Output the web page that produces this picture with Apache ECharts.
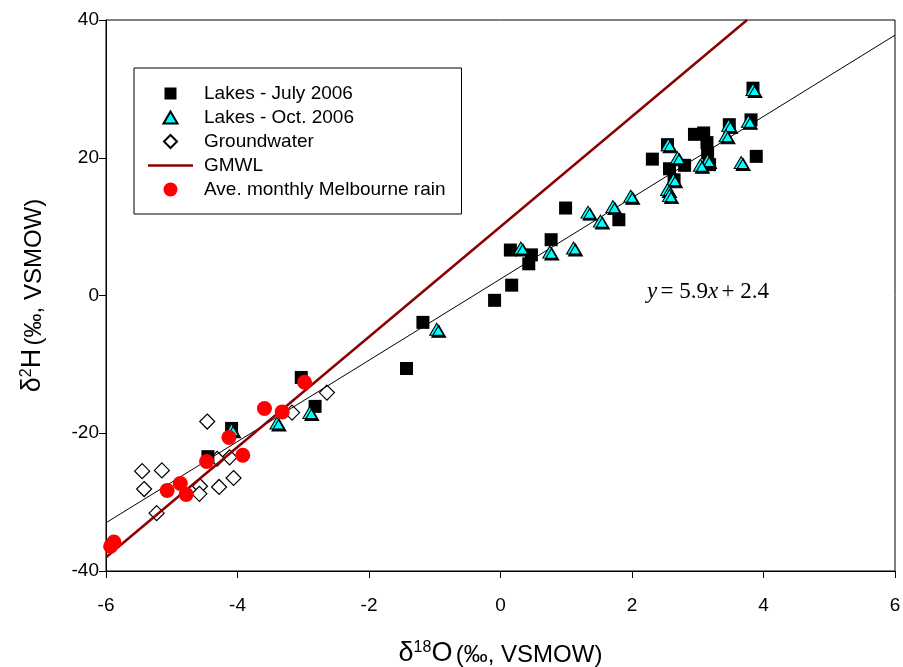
<!DOCTYPE html>
<html style="height: 100%">

<head>
  <meta charset="utf-8">
  <script src="https://cdn.jsdelivr.net/npm/echarts@6/dist/echarts.min.js"></script>
</head>

<body style="height: 100%; margin: 0">
  <div id="main" style="width: 903px; height: 667px"></div>

  <script type="text/javascript">
    // values: [d18O, d2H]
    var lakesJuly = [
      [-4.09, -19.3], [-4.45, -23.4], [-3.03, -11.9], [-2.82, -16.1],
      [-1.43, -10.6], [-1.18, -3.9], [-0.09, -0.7], [0.17, 1.5],
      [0.15, 6.6], [0.43, 4.6], [0.47, 5.9], [0.77, 8.1],
      [0.99, 12.7], [1.8, 11.0], [2.31, 19.8], [2.95, 23.4],
      [3.09, 23.6], [3.14, 22.2], [3.15, 20.7], [2.57, 18.4],
      [2.8, 18.9], [3.18, 19.0], [3.89, 20.2], [2.64, 16.8],
      [3.48, 24.8], [3.81, 25.5], [3.84, 30.1], [2.54, 21.9]
    ];
    var lakesOct = [
      [-4.09, -19.5], [-3.4, -18.5], [-2.9, -17.0], [-0.97, -4.9],
      [0.31, 6.9], [0.75, 6.3], [1.11, 6.9], [1.33, 12.1],
      [1.52, 10.8], [1.71, 12.9], [1.98, 14.4], [2.55, 21.9],
      [2.69, 20.0], [3.15, 19.6], [3.04, 18.9], [3.66, 19.3],
      [2.63, 16.8], [2.54, 15.4], [2.57, 14.5], [3.47, 24.7],
      [3.43, 23.2], [3.77, 25.3], [3.84, 29.9]
    ];
    var groundwater = [
      [-4.46, -18.3], [-5.45, -25.5], [-5.15, -25.4], [-5.42, -28.1],
      [-5.23, -31.6], [-4.57, -27.7], [-4.58, -28.8], [-4.28, -27.8],
      [-4.06, -26.5], [-4.12, -23.5], [-4.31, -23.7], [-3.17, -17.0],
      [-2.64, -14.1]
    ];
    var melbourneRain = [
      [-5.93, -36.4], [-5.88, -35.8], [-5.07, -28.3], [-4.87, -27.3],
      [-4.78, -28.9], [-4.47, -24.1], [-4.13, -20.6], [-3.92, -23.2],
      [-3.59, -16.4], [-3.32, -16.9], [-2.98, -12.6]
    ];
    var gmwl = [[-6, -38], [3.75, 40]];
    var fitLine = [[-6, -33], [6, 37.8]];
    var xTicks = { min: -6, max: 6, interval: 2 };
    var yTicks = { min: -40, max: 40, interval: 20 };

    var font = 'Liberation Sans, Arial, sans-serif';
    var serif = 'Liberation Serif, Times New Roman, serif';

    var titleRich = {
      d: { fontSize: 27, fontFamily: font, color: '#000' },
      s: { fontSize: 16, fontFamily: font, color: '#000', verticalAlign: 'top' },
      p: { fontSize: 24, fontFamily: font, color: '#000', padding: [3, 0, 0, 0] }
    };

    myChart = echarts.init(document.getElementById('main'));
    var option = {
      backgroundColor: '#fff',
      animation: false,
      textStyle: { fontFamily: font, color: '#000' },
      grid: {
        left: 106, right: 8, top: 20, bottom: 96,
        outerBoundsMode: 'none',
        containLabel: false,
        show: true, borderColor: '#000', borderWidth: 1
      },
      legend: {
        orient: 'vertical',
        left: 134, top: 68,
        padding: [16, 16, 15, 13],
        borderColor: '#000', borderWidth: 1,
        backgroundColor: '#fff',
        itemWidth: 45, itemHeight: 14, itemGap: 5,
        textStyle: { fontFamily: font, fontSize: 19, color: '#000', lineHeight: 18, padding: [0, 0, 0, 6] },
        data: [
          { name: 'Lakes - July 2006', icon: 'path://M0,0M45,14M16.5,1L28.5,1L28.5,13L16.5,13Z' },
          { name: 'Lakes - Oct. 2006', icon: 'path://M0,0M45,14M22.5,1L29.5,13L15.5,13Z',
            itemStyle: { shadowColor: 'transparent' } },
          { name: 'Groundwater', icon: 'path://M0,0M45,14M22.5,0.5L29,7L22.5,13.5L16,7Z' },
          { name: 'GMWL', icon: 'path://M0,0M45,14M0,5.75L45,5.75L45,8.25L0,8.25Z' },
          { name: 'Ave. monthly Melbourne rain', icon: 'circle' }
        ]
      },
      xAxis: {
        type: 'value',
        min: xTicks.min, max: xTicks.max, interval: xTicks.interval,
        splitLine: { show: false },
        axisLine: { onZero: false, lineStyle: { color: '#000', width: 1 } },
        axisTick: { length: 7, lineStyle: { color: '#000' } },
        axisLabel: { margin: 25, fontSize: 19, color: '#000', fontFamily: font },
        name: '{d|δ}{s|18}{d|O} {p|(‰, VSMOW)}',
        nameLocation: 'middle',
        nameGap: 69,
        nameTextStyle: { rich: titleRich }
      },
      yAxis: {
        type: 'value',
        min: yTicks.min, max: yTicks.max, interval: yTicks.interval,
        splitLine: { show: false },
        axisLine: { onZero: false, lineStyle: { color: '#000', width: 1 } },
        axisTick: { length: 7, lineStyle: { color: '#000' } },
        axisLabel: { margin: 7, fontSize: 19, color: '#000', fontFamily: font },
        name: '{d|δ}{s|2}{d|H} {p|(‰, VSMOW)}',
        nameLocation: 'middle',
        nameRotate: 90,
        nameGap: 60,
        nameTextStyle: { rich: titleRich }
      },
      series: [
        {
          name: 'Groundwater',
          type: 'scatter',
          z: 2,
          symbol: 'diamond',
          symbolSize: 15,
          itemStyle: { color: '#fff', borderColor: '#000', borderWidth: 1.2, opacity: 1 },
          data: groundwater
        },
        {
          name: 'fit',
          type: 'line',
          z: 3,
          symbol: 'none',
          silent: true,
          lineStyle: { color: '#000', width: 1 },
          data: fitLine
        },
        {
          name: 'Lakes - July 2006',
          type: 'scatter',
          z: 4,
          symbol: 'rect',
          symbolSize: 13,
          itemStyle: { color: '#000', opacity: 1 },
          data: lakesJuly
        },
        {
          name: 'Lakes - Oct. 2006',
          type: 'scatter',
          z: 5,
          symbol: 'triangle',
          symbolSize: [14, 12],
          itemStyle: {
            color: '#00ffff', borderColor: '#000', borderWidth: 1, opacity: 1,
            shadowColor: '#000', shadowBlur: 0, shadowOffsetX: 2, shadowOffsetY: 2
          },
          data: lakesOct
        },
        {
          name: 'GMWL',
          type: 'line',
          z: 6,
          symbol: 'none',
          color: '#8b0000',
          lineStyle: { color: '#8b0000', width: 2.5 },
          data: gmwl
        },
        {
          name: 'Ave. monthly Melbourne rain',
          type: 'scatter',
          z: 7,
          symbol: 'circle',
          symbolSize: 15,
          itemStyle: { color: '#ff0000', opacity: 1 },
          data: melbourneRain
        }
      ],
      graphic: [
        {
          type: 'text',
          left: 647, top: 280,
          z: 10,
          style: {
            text: '{i|y} {n|= 5.9}{i|x} {n|+ 2.4}',
            rich: {
              i: { fontFamily: serif, fontStyle: 'italic', fontSize: 23, fill: '#000' },
              n: { fontFamily: serif, fontSize: 23, fill: '#000' }
            }
          }
        }
      ]
    };
    myChart.setOption(option, true);
  </script>
</body>

</html>
